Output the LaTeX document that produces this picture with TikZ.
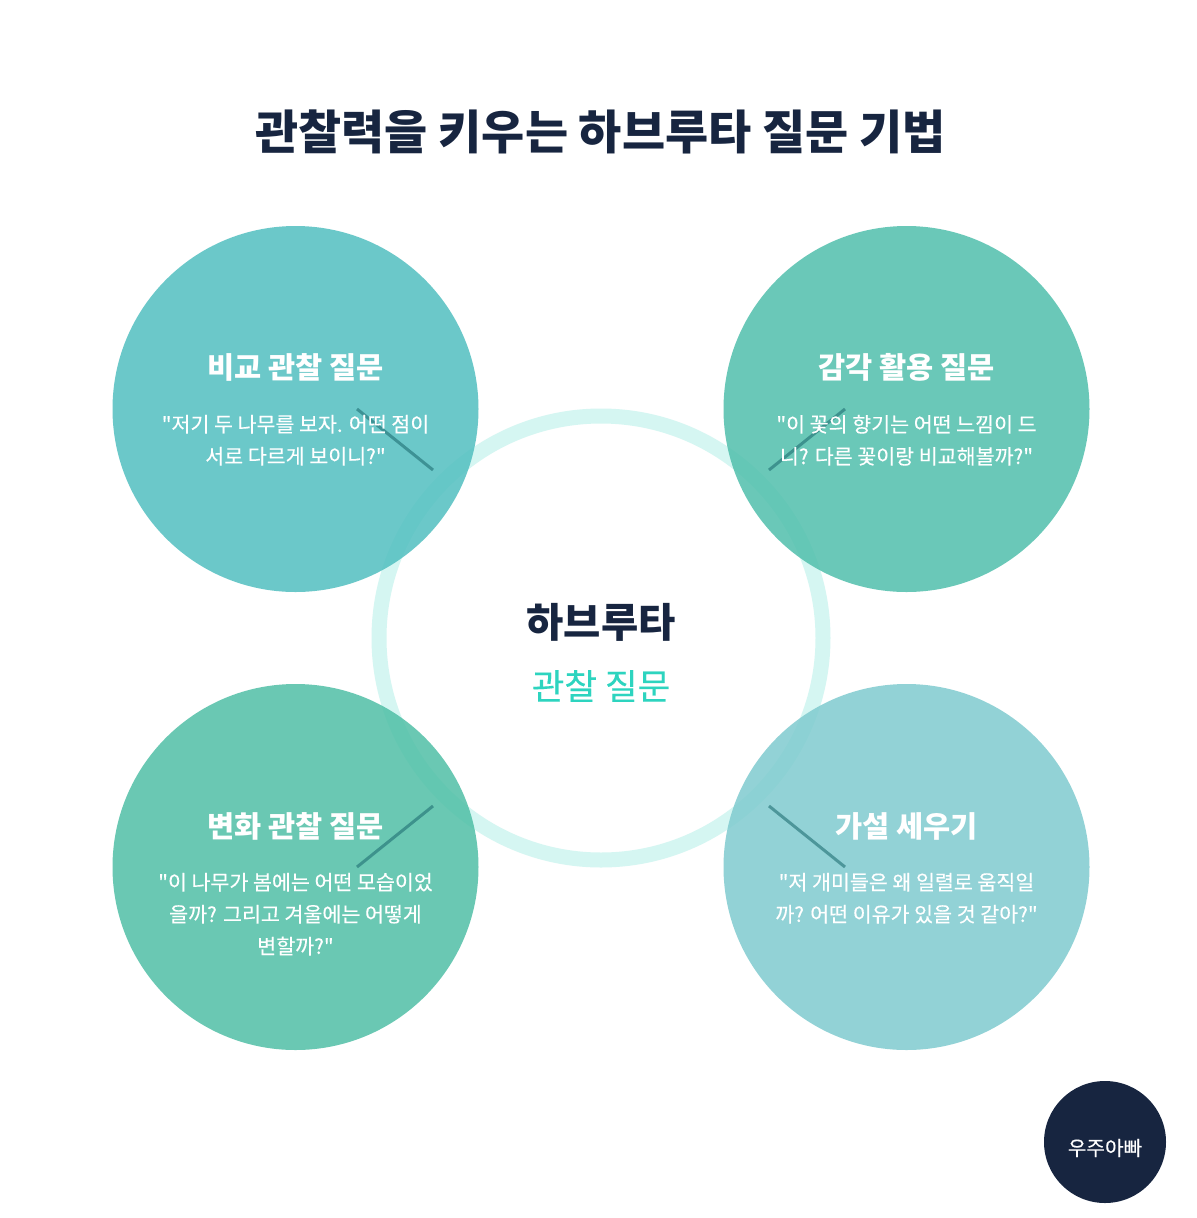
\documentclass[tikz,border=0pt]{standalone}
\usepackage{fontspec}
\newfontfamily\krfont{Noto Sans CJK KR}
\newfontfamily\krmedium[FakeBold=0.3]{Noto Sans CJK KR}
\usetikzlibrary{positioning}
\definecolor{navy}{HTML}{172540}
\definecolor{ringcol}{HTML}{2DD4BF}
\definecolor{topleft}{HTML}{52BFC0}
\definecolor{topright}{HTML}{51BFAC}
\definecolor{botleft}{HTML}{50BFA6}
\definecolor{botright}{HTML}{80CBCF}
\definecolor{linecol}{HTML}{1F6F73}
\newlength{\pxu}
\setlength{\pxu}{0.6pt}
\tikzset{
    topic/.style={circle,minimum size=366\pxu,inner sep=0pt,fill opacity=.85,text opacity=1},
    headtext/.style={text=white,font=\fontsize{29.5\pxu}{34\pxu}\selectfont\bfseries},
    quotetext/.style={text=white,align=center,font=\krmedium\fontsize{20.6\pxu}{32\pxu}\selectfont},
    tie/.style={line width=3\pxu,linecol,opacity=.6}
}
\begin{document}
\krfont
\begin{tikzpicture}[x=0.6pt,y=-0.6pt]
    \useasboundingbox (0,0) rectangle (1196,1218);
    \fill[white] (0,0) rectangle (1196,1218);
    % ring in the middle
    \node[circle,minimum size=444\pxu,inner sep=0pt,draw=ringcol,draw opacity=.2,line width=15\pxu] (ring) at (601,638) {};
    % four circles
    \node[topic,fill=topleft] (compare) at (295.5,409) {};
    \node[topic,fill=topright] (sense) at (906.5,409) {};
    \node[topic,fill=botleft] (change) at (295.5,867) {};
    \node[topic,fill=botright] (guess) at (906.5,867) {};
    % short lines
    \coordinate (c1) at (357,409); \coordinate (c2) at (433,470);
    \coordinate (s1) at (845,409); \coordinate (s2) at (769,470);
    \coordinate (h1) at (357,867); \coordinate (h2) at (433,806);
    \coordinate (g1) at (845,867); \coordinate (g2) at (769,806);
    \draw[tie] (c1) -- (c2);
    \draw[tie] (s1) -- (s2);
    \draw[tie] (h1) -- (h2);
    \draw[tie] (g1) -- (g2);
    % texts
    \node[text=navy,font=\fontsize{46.9\pxu}{52\pxu}\selectfont\bfseries] (title) at (600.5,132) {관찰력을 키우는 하브루타 질문 기법};
    \node[text=navy,font=\fontsize{40.5\pxu}{46\pxu}\selectfont\bfseries] (hub) at (601,622) {하브루타};
    \node[text=ringcol,font=\krmedium\fontsize{35.5\pxu}{40\pxu}\selectfont] (hubsub) at (601,686) {관찰 질문};
    \node[headtext] (comparehead) at (295.5,367) {비교 관찰 질문};
    \node[headtext] (sensehead) at (906.5,367) {감각 활용 질문};
    \node[headtext] (changehead) at (295.5,826) {변화 관찰 질문};
    \node[headtext] (guesshead) at (906.5,826) {가설 세우기};
    \node[quotetext,anchor=north] (comparetext) at (295.5,409) {"저기 두 나무를 보자. 어떤 점이\\서로 다르게 보이니?"};
    \node[quotetext,anchor=north] (sensetext) at (906.5,409) {"이 꽃의 향기는 어떤 느낌이 드\\니? 다른 꽃이랑 비교해볼까?"};
    \node[quotetext,anchor=north] (changetext) at (295.5,867) {"이 나무가 봄에는 어떤 모습이었\\을까? 그리고 겨울에는 어떻게\\변할까?"};
    \node[quotetext,anchor=north] (guesstext) at (906.5,867) {"저 개미들은 왜 일렬로 움직일\\까? 어떤 이유가 있을 것 같아?"};
    % badge
    \node[circle,fill=navy,minimum size=122\pxu,inner sep=0pt] (badge) at (1105,1142) {};
    \node[text=white,font=\krmedium\fontsize{20.2\pxu}{24\pxu}\selectfont] (badgetext) at (1105,1148) {우주아빠};
\end{tikzpicture}
\end{document}
